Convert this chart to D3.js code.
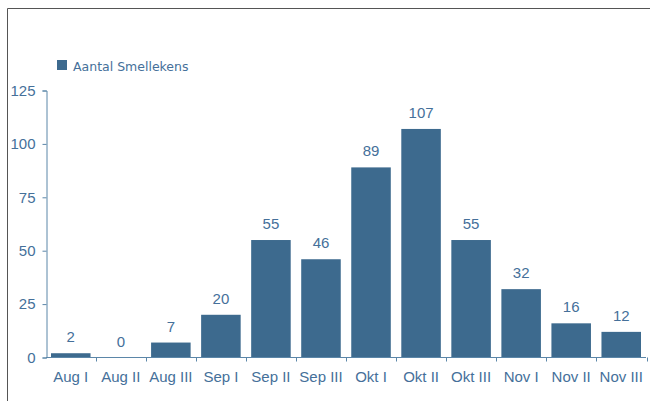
<!DOCTYPE html>
<html>
<head>
<meta charset="utf-8">
<script src="https://cdn.jsdelivr.net/npm/d3@7"></script>
<style>
  body { margin: 0; background: #fff; }
  svg { display: block; }
  .lbl { font-family: "Liberation Sans", Arimo, Arial, sans-serif; }
</style>
</head>
<body>
<div id="chart"></div>
<script>
const categories = ['Aug I', 'Aug II', 'Aug III', 'Sep I', 'Sep II', 'Sep III',
                    'Okt I', 'Okt II', 'Okt III', 'Nov I', 'Nov II', 'Nov III'];
const values = [2, 0, 7, 20, 55, 46, 89, 107, 55, 32, 16, 12];
const yTicks = [0, 25, 50, 75, 100, 125];
const seriesName = 'Aantal Smellekens';

const w = 650;
const h = 401;
const color = '#3d6a8e';
const textColor = '#45709a';
const axisColor = '#5b86a8';

const svg = d3.select('#chart')
              .append('svg')
              .attr('width', w)
              .attr('height', h);

// outer frame (only top and left are inside the picture)
svg.append('path')
   .attr('d', 'M7.5,' + h + 'V8.5H' + w)
   .attr('fill', 'none')
   .attr('stroke', '#555')
   .attr('stroke-width', 1);

const xScale = d3.scaleBand()
                 .domain(categories)
                 .range([46, 646])
                 .paddingInner(0.21)
                 .paddingOuter(0.1);
const yScale = d3.scaleLinear()
                 .domain([0, 125])
                 .range([357.5, 90.5]);

svg.selectAll('rect.bar')
   .data(values)
   .enter()
   .append('rect')
   .attr('class', 'bar')
   .attr('x', (d, i) => xScale(categories[i]))
   .attr('y', d => yScale(d))
   .attr('width', xScale.bandwidth())
   .attr('height', d => yScale(0) - yScale(d))
   .attr('fill', color);

svg.selectAll('text.val')
   .data(values)
   .enter()
   .append('text')
   .attr('class', 'val lbl')
   .attr('x', (d, i) => xScale(categories[i]) + xScale.bandwidth() / 2)
   .attr('y', d => yScale(d) - 11)
   .attr('text-anchor', 'middle')
   .attr('font-size', 15)
   .attr('fill', textColor)
   .text(d => d);

// y axis
const yAxis = d3.axisLeft(yScale).tickValues(yTicks).tickSize(4).tickPadding(7);
const gy = svg.append('g')
   .attr('transform', 'translate(46.5,0)')
   .call(yAxis)
   .attr('font-family', null);
gy.select('.domain').attr('stroke', axisColor);
gy.selectAll('.tick line').attr('stroke', axisColor);
gy.selectAll('.tick text')
  .attr('class', 'lbl')
  .attr('font-size', 15)
  .attr('fill', textColor);

// x axis, ticks sit between the categories
const gx = svg.append('g').attr('transform', 'translate(0,357.5)');
gx.append('line')
  .attr('x1', 46).attr('x2', 646)
  .attr('stroke', axisColor);
gx.selectAll('line.tk')
  .data(categories)
  .enter()
  .append('line')
  .attr('class', 'tk')
  .attr('x1', d => Math.round(xScale(d) - xScale.step() * 0.1 + xScale.step()) + 0.5)
  .attr('x2', d => Math.round(xScale(d) - xScale.step() * 0.1 + xScale.step()) + 0.5)
  .attr('y1', 0).attr('y2', 4)
  .attr('stroke', axisColor);
gx.selectAll('text')
  .data(categories)
  .enter()
  .append('text')
  .attr('class', 'lbl')
  .attr('x', d => xScale(d) + xScale.bandwidth() / 2)
  .attr('y', 24)
  .attr('text-anchor', 'middle')
  .attr('font-size', 15)
  .attr('fill', textColor)
  .text(d => d);

// legend
const legend = svg.append('g').attr('transform', 'translate(57,60)');
legend.append('rect')
      .attr('width', 10).attr('height', 10)
      .attr('fill', color);
legend.append('text')
      .attr('x', 16).attr('y', 11)
      .attr('font-family', '"DejaVu Sans", Verdana, sans-serif')
      .attr('font-size', 12.5)
      .attr('fill', textColor)
      .text(seriesName);
</script>
</body>
</html>
